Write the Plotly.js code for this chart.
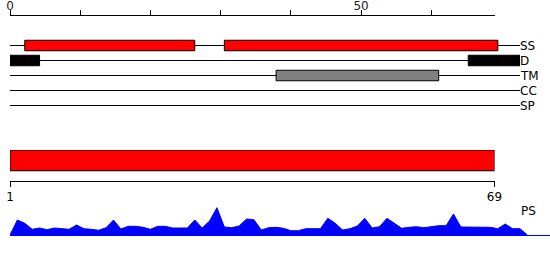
<!DOCTYPE html>
<html><head><meta charset="utf-8">
<script src="https://cdn.plot.ly/plotly-3.0.1.min.js"></script>
<style>body{margin:0;background:#fff}#c{width:550px;height:260px}</style></head>
<body><div id="c"></div>
<script>
// ---- data ----
const trackNames = ['SS', 'D', 'TM', 'CC', 'SP'];
const trackLength = 69;
const ssStart = [2, 29];
const ssEnd = [25, 66];
const dStart = [0, 62];
const dEnd = [4, 69];
const tmStart = [36];
const tmEnd = [58];
const topTicks = [0, 10, 20, 30, 40, 50, 60];
const topTickText = ['0', '', '', '', '', '50', ''];
const seqStart = 1;
const seqEnd = 69;
const seqTicks = [1, 69];
const psVal = [0, 15, 11.7, 5.7, 7, 5.3, 7, 6.3, 5.7, 10, 6.3,
  5.7, 4.7, 7.3, 15, 6, 8.7, 8.7, 7.7, 5.7, 8.7,
  8.7, 7, 7, 7, 15, 7, 14, 27.3, 8, 7.3,
  9, 16, 15.3, 5, 7.3, 7.7, 6.7, 4.3, 4.3, 6.3,
  6.3, 6.3, 16.7, 11.7, 5, 6.3, 9, 16.7, 7, 8.3,
  16.7, 11.7, 6.7, 7.7, 8.3, 7.3, 8.3, 9.3, 9.3, 21,
  8, 8, 8, 7.7, 7.7, 6.3, 11, 6.3, 6.3, 0];
const psPos = psVal.map((v, i) => i);

// ---- layout helpers ----
const W = 550, H = 260;
const px = v => v / W;
const py = v => 1 - v / H;
const FONT = {family: 'DejaVu Sans', size: 12, color: '#000'};

const traces = [];
traces.push({x: [0], y: [0], xaxis: 'x', yaxis: 'y', mode: 'markers', marker: {opacity: 0}, hoverinfo: 'skip', showlegend: false});
trackNames.forEach((n, i) => {
  traces.push({x: [0, trackLength], y: [i, i], xaxis: 'x2', yaxis: 'y2', mode: 'lines',
    line: {color: '#000', width: 1}, hoverinfo: 'skip', showlegend: false});
});
traces.push({x: psPos, y: psVal, xaxis: 'x4', yaxis: 'y4', mode: 'lines', fill: 'tozeroy',
  fillcolor: '#0000ff', line: {color: '#0000ff', width: 1}, hoverinfo: 'skip', showlegend: false});

const shapes = [];
function boxes(starts, ends, row, color) {
  starts.forEach((s, k) => {
    shapes.push({type: 'rect', xref: 'x2', yref: 'y2', x0: s, x1: ends[k], y0: row - 0.35, y1: row + 0.35,
      fillcolor: color, line: {color: '#000', width: 1}});
  });
}
boxes(ssStart, ssEnd, 0, '#ff0000');
boxes(dStart, dEnd, 1, '#000000');
boxes(tmStart, tmEnd, 2, '#808080');
shapes.push({type: 'rect', xref: 'x3', yref: 'y3', x0: seqStart, x1: seqEnd, y0: 0.33, y1: 1,
  fillcolor: '#ff0000', line: {color: '#000', width: 1}});

const annotations = trackNames.map((n, i) => ({
  x: trackLength, y: i, xref: 'x2', yref: 'y2', text: n, showarrow: false,
  xanchor: 'left', yanchor: 'middle', font: FONT, xshift: -2
}));
annotations.push({x: px(519), y: py(211), xref: 'paper', yref: 'paper', text: 'PS', showarrow: false,
  xanchor: 'left', yanchor: 'middle', font: FONT});

const hidden = {visible: false, fixedrange: true};
const layout = {
  width: W, height: H, margin: {l: 0, r: 0, t: 0, b: 0},
  paper_bgcolor: '#fff', plot_bgcolor: 'rgba(0,0,0,0)', showlegend: false,
  font: FONT,
  xaxis: {domain: [px(10), px(494.5)], range: [0, trackLength], anchor: 'y', side: 'top',
    showline: true, linecolor: '#000', linewidth: 1, ticks: 'outside', ticklen: 5, tickcolor: '#000',
    ticklabelstandoff: -5,
    tickvals: topTicks, ticktext: topTickText, showgrid: false, zeroline: false,
    tickfont: {family: 'DejaVu Sans', size: 12, color: '#222'}, fixedrange: true},
  yaxis: Object.assign({domain: [py(16), py(15.5)], range: [-1, 1]}, hidden),
  xaxis2: Object.assign({domain: [px(10), px(520)], range: [0, trackLength], anchor: 'y2'}, hidden),
  yaxis2: Object.assign({domain: [py(113), py(38)], range: [4.5, -0.5], anchor: 'x2'}, hidden),
  xaxis3: {domain: [px(10), px(494.5)], range: [seqStart, seqEnd], anchor: 'y3', side: 'bottom',
    showline: true, linecolor: '#000', linewidth: 1, ticks: 'outside', ticklen: 5, tickcolor: '#000',
    tickvals: seqTicks, ticktext: seqTicks.map(String), showgrid: false, zeroline: false, tickfont: FONT, fixedrange: true},
  yaxis3: Object.assign({domain: [py(181), py(150)], range: [0, 1], anchor: 'x3'}, hidden),
  xaxis4: {domain: [px(10), 1], range: [0, trackLength * 540 / 510], anchor: 'y4',
    showline: true, linecolor: '#0000ff', linewidth: 1, ticks: '', showticklabels: false,
    showgrid: false, zeroline: false, fixedrange: true},
  yaxis4: Object.assign({domain: [py(235), py(205)], range: [0, 30], anchor: 'x4'}, hidden),
  shapes: shapes, annotations: annotations
};
Plotly.newPlot('c', traces, layout, {staticPlot: true, displayModeBar: false});
</script></body></html>
